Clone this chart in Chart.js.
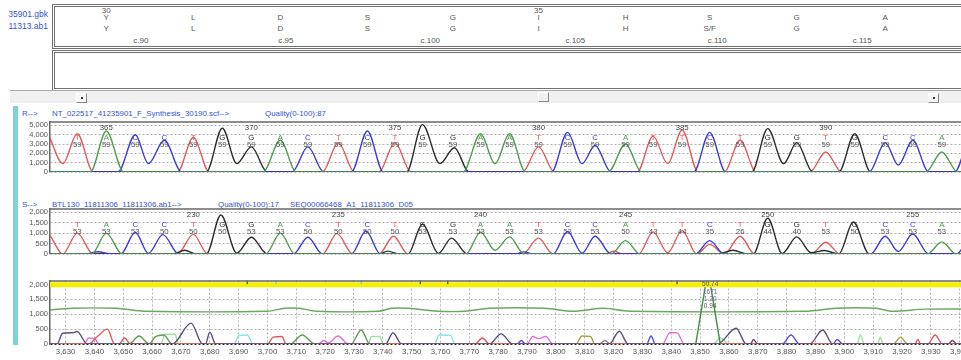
<!DOCTYPE html>
<html>
<head>
<meta charset="utf-8">
<script src="https://cdn.jsdelivr.net/npm/chart.js@4.4.1/dist/chart.umd.min.js"></script>
<style>
  html, body { margin: 0; padding: 0; background: #fff; }
  body { position: relative; width: 961px; height: 360px; overflow: hidden; font-family: "Liberation Sans", Arial, sans-serif; }
  .abs { position: absolute; white-space: nowrap; line-height: 9px; }
  .blue { color: #3555cf; font-size: 7.9px; }
  .box { position: absolute; left: 52px; width: 930px; border: 3px double #707070; background: #fff; }
  .gt { position: absolute; white-space: nowrap; font-size: 8px; line-height: 9px; color: #555; }
  canvas { position: absolute; left: 0; }
  .btn { position: absolute; width: 9px; height: 8px; background: #f6f6f6; border: 1px solid #fff; border-right-color: #888; border-bottom-color: #888; }
  .btn i { position: absolute; left: 4px; top: 3px; width: 2px; height: 2px; background: #333; }
</style>
</head>
<body>
<!-- top alignment panels -->
<div class="abs" style="right:913px;top:10px;font-size:8.5px;color:#3555cf">35901.gbk</div>
<div class="abs" style="right:913px;top:22px;font-size:8.5px;color:#3555cf">11313.ab1</div>
<div class="box" style="top:4px;height:39px"></div>
<div class="box" style="top:50px;height:35px"></div>
<div class="abs" style="left:10px;top:90px;width:951px;height:1px;background:#aaa"></div>
<div class="abs" style="left:10px;top:91px;width:951px;height:12px;background:#f0f0f0"></div>
<div class="btn" style="left:76px;top:93px"><i></i></div>
<div class="btn" style="left:538px;top:92px;background:#f0f0f0"></div>
<div class="btn" style="left:928px;top:93px"><i></i></div>
<div class="abs" style="left:13px;top:106px;width:5px;height:239px;background:#7fd3d6"></div>

<!-- trace headers -->
<div class="abs blue" style="left:22px;top:109px">R--&gt;</div>
<div class="abs blue" style="left:52px;top:109px">NT_022517_41235901_F_Synthesis_30190.scf--&gt;</div>
<div class="abs blue" style="left:265px;top:109px">Quality(0-100):87</div>
<div class="abs blue" style="left:22px;top:200px">S--&gt;</div>
<div class="abs blue" style="left:52px;top:200px">BTL130_11811306_11811306.ab1--&gt;</div>
<div class="abs blue" style="left:218px;top:200px">Quality(0-100):17</div>
<div class="abs blue" style="left:290px;top:200px">SEQ00066468_A1_11811306_D05</div>

<canvas id="rChart" width="994" height="77" style="top:115px"></canvas>
<canvas id="sChart" width="994" height="72" style="top:202px"></canvas>
<canvas id="mChart" width="994" height="84" style="top:274px"></canvas>

<script>
// ---- scan axis ----
const xTicks = [3630, 3640, 3650, 3660, 3670, 3680, 3690, 3700, 3710, 3720, 3730, 3740, 3750, 3760, 3770, 3780,
                3790, 3800, 3810, 3820, 3830, 3840, 3850, 3860, 3870, 3880, 3890, 3900, 3910, 3920, 3930, 3940];
const rTicks = [0, 1000, 2000, 3000, 4000, 5000];
const sTicks = [0, 500, 1000, 1500, 2000];
const mTicks = [0, 500, 1000, 1500, 2000];

// ---- protein / cDNA rows (top box) ----
const aaRef = ['Y', 'L', 'D', 'S', 'G', 'I', 'H', 'S', 'G', 'A'];
const aaSample = ['Y', 'L', 'D', 'S', 'G', 'I', 'H', 'S/F', 'G', 'A'];
const aaFirst = 30;
const cdnaFirst = 88;

// ---- called bases ----
const bases = 'TACCTGGACTCTGGAATCCATTCTGGTGCCA';
const baseScans = [3634, 3644, 3654, 3664, 3674, 3684, 3694, 3704, 3713.5, 3724, 3734, 3743.5, 3753, 3763.5, 3773, 3783,
                   3793, 3803, 3812.5, 3823, 3832.5, 3842.5, 3852, 3862.5, 3872, 3882, 3892, 3902, 3912.5, 3922, 3932];
const rQual = [59, 59, 59, 59, 59, 59, 59, 59, 59, 59, 59, 59, 59, 59, 59, 59, 59, 59, 59, 59, 59, 59, 59, 59, 59, 59, 59, 59, 59, 59, 59];
const sQual = [53, 53, 53, 50, 50, 50, 53, 53, 50, 50, 50, 50, 53, 53, 53, 53, 53, 53, 53, 50, 43, 44, 35, 26, 44, 40, 53, 50, 53, 53, 53];
const rFirstPos = 364;
const sFirstPos = 226;

// ---- reference trace (R) ----
const rA = [[3620, 0], [3638.5, 0], [3644, 4400], [3650, 0], [3698, 0], [3704, 3400], [3709.5, 0], [3767, 0], [3773, 4100], [3778, 900],
            [3783, 4100], [3788.5, 0], [3817, 0], [3823, 3000], [3828.5, 0], [3926.5, 0], [3932, 2150], [3937.5, 0], [3955, 0]];
const rC = [[3620, 0], [3648, 0], [3654, 4000], [3658.5, 900], [3664, 3400], [3670, 0], [3708, 0], [3713.5, 2700], [3719, 0], [3728.5, 0],
            [3734, 4400], [3739.5, 0], [3797.5, 0], [3803, 4250], [3808, 900], [3812.5, 2850], [3818, 0], [3846.5, 0], [3852, 4250], [3857.5, 0],
            [3907, 0], [3912.5, 3150], [3917, 750], [3922, 3400], [3927.5, 0], [3936.5, 0], [3942, 3800], [3948, 0]];
const rG = [[3620, 0], [3678.5, 0], [3684, 4700], [3689, 900], [3694, 2700], [3699.5, 0], [3747.5, 0], [3753, 5080], [3759, 900], [3764, 2600],
            [3769, 0], [3866.5, 0], [3872, 4650], [3877.5, 900], [3882, 3150], [3887.5, 0], [3896.5, 0], [3902, 4100], [3907.5, 0], [3955, 0]];
const rT = [[3617, 0], [3623, 4200], [3629, 900], [3634, 4100], [3639.5, 0], [3668.5, 0], [3674, 3700], [3679.5, 0], [3718.5, 0], [3724, 3150],
            [3729.5, 0], [3738, 0], [3743.5, 3150], [3749, 0], [3787.5, 0], [3793, 2700], [3798.5, 0], [3827, 0], [3832.5, 3850], [3837.5, 900],
            [3842.5, 4500], [3848, 0], [3857, 0], [3862.5, 3400], [3868, 0], [3886.5, 0], [3892, 2150], [3897.5, 0], [3955, 0]];

// ---- sample trace (S) ----
const sA = [[3620, 0], [3639, 0], [3644, 1000], [3649.5, 0], [3699, 0], [3704, 1000], [3709, 0], [3768, 0], [3773, 1050], [3778, 180],
            [3783, 820], [3788, 0], [3818, 0], [3823, 640], [3828, 0], [3927, 0], [3932, 580], [3937, 0], [3955, 0]];
const sC = [[3620, 0], [3637, 0], [3641, 110], [3646, 0], [3649, 0], [3654, 1040], [3658.5, 30], [3663.5, 930], [3669, 0], [3708.5, 0],
            [3713.5, 800], [3718.5, 0], [3728.5, 0], [3733.5, 1100], [3738.5, 0], [3785, 0], [3788, 100], [3791, 0], [3798, 0], [3803, 1080],
            [3808, 40], [3812.5, 850], [3818, 0], [3847, 0], [3852, 640], [3857, 0], [3907.5, 0], [3912.5, 850], [3917, 120], [3922, 960],
            [3927.5, 0], [3937, 0], [3943, 1000], [3949, 0]];
const sG = [[3620, 0], [3667, 0], [3671, 180], [3675, 0], [3678.5, 0], [3683.5, 1870], [3689, 40], [3694, 800], [3699.5, 0], [3738, 0],
            [3741, 140], [3745, 0], [3748, 0], [3753, 1440], [3758.5, 30], [3763, 760], [3768.5, 0], [3855, 0], [3860, 180], [3865, 0],
            [3867, 0], [3872, 1710], [3877, 30], [3882, 820], [3887, 60], [3891.5, 170], [3896.5, 0], [3901.5, 1530], [3907, 0], [3955, 0]];
const sT = [[3618, 0], [3623.5, 1000], [3629, 0], [3634, 1000], [3639.5, 0], [3668.5, 0], [3674, 940], [3679, 0], [3718.5, 0], [3723.5, 975],
            [3729, 0], [3738, 0], [3743, 850], [3748, 0], [3787.5, 0], [3793, 760], [3798, 0], [3816, 0], [3819, 130], [3822, 0],
            [3827.5, 0], [3832.5, 1060], [3837.5, 60], [3842.5, 1120], [3847.5, 0], [3852, 460], [3857, 0], [3862.5, 850], [3867.5, 0],
            [3887, 0], [3892, 560], [3897, 0], [3955, 0]];

// ---- mutation panel ----
const band = [[3620, 1990], [3955, 1990]];
const bandMarks = [[3693, 2110], [3703, 2110], [3732.5, 2110], [3753, 2110], [3762.5, 2110], [3842, 2110]];
const bandMarkColors = ['#3d7a3d', '#70d8d8', '#70d8d8', '#3d7a3d', '#3d7a3d', '#666'];
const mLine = [[3620, 1100], [3632.5, 1200], [3647.5, 1200], [3658, 1100], [3700, 1100], [3706, 1200], [3711, 1200], [3717, 1100],
               [3738.5, 1100], [3743, 1200], [3749, 1200], [3759, 1100], [3768.5, 1100], [3777, 1200], [3796, 1200], [3806, 1100],
               [3816.5, 1200], [3825.5, 1100], [3886.5, 1100], [3897, 1200], [3911, 1200], [3916.5, 1100], [3928, 1170], [3955, 1170]];
const spike = [[3848.5, 0], [3852, 2050], [3853.5, 2050], [3857, 0]];
const spikeNotes = ['50.74', '1671', '1.20', '0.94'];
const spikeScan = 3853.5;
const nDark = [[3620, 0], [3627, 0], [3629, 360], [3632.5, 380], [3634, 420], [3637.5, 0], [3667, 0], [3673.5, 700], [3677.5, 0], [3678.5, 0],
               [3680, 400], [3682, 0], [3741, 0], [3743.5, 380], [3746.5, 0], [3777, 0], [3781, 340], [3785, 0], [3818.5, 0], [3822, 430],
               [3825, 0], [3856, 0], [3862.5, 530], [3866, 0], [3867.5, 0], [3868.5, 150], [3870, 0], [3888, 0], [3892.5, 470], [3896, 0],
               [3936, 0], [3937.5, 120], [3939, 0], [3955, 0]];
const nRed = [[3620, 0], [3638, 0], [3641, 250], [3644.5, 500], [3647, 0], [3648.5, 0], [3650.5, 200], [3652.5, 0], [3700, 0], [3702, 230],
              [3705, 250], [3706.5, 0], [3772, 0], [3774.5, 200], [3777, 0], [3924.5, 0], [3925.5, 150], [3926.5, 0], [3929, 0], [3931.5, 300],
              [3934, 0], [3955, 0]];
const nGreen = [[3620, 0], [3652, 0], [3655.5, 270], [3659, 0], [3661, 230], [3664, 300], [3667, 0], [3708, 0], [3712, 300], [3716.5, 0],
                [3729, 0], [3732.5, 470], [3735.5, 0], [3955, 0]];
const nOlive = [[3620, 0], [3807, 0], [3809, 270], [3812, 250], [3813.5, 0], [3917, 0], [3919.5, 230], [3922, 0], [3955, 0]];
const nLight = [[3620, 0], [3663, 0], [3664.5, 330], [3668, 330], [3669, 0], [3735, 0], [3736, 250], [3739, 250], [3740, 0], [3854.5, 0],
                [3857, 200], [3860, 0], [3904.5, 0], [3905.5, 300], [3907, 0], [3911.5, 0], [3912.5, 230], [3913.5, 0], [3955, 0]];
const nCyan = [[3620, 0], [3688.5, 0], [3690, 280], [3693, 300], [3695, 0], [3758, 0], [3759.5, 300], [3763.5, 290], [3765, 0], [3955, 0]];
const nMagenta = [[3620, 0], [3636.5, 0], [3638, 200], [3640, 190], [3641.5, 0], [3717.5, 0], [3719.5, 120], [3721, 40], [3724.5, 270],
                  [3728, 0], [3790, 0], [3792, 250], [3794, 180], [3796.5, 250], [3799, 0], [3837, 0], [3839.5, 380], [3842, 380],
                  [3844.5, 0], [3955, 0]];
const nBlue = [[3620, 0], [3786.5, 0], [3788, 120], [3789.5, 0], [3831.5, 0], [3833, 270], [3834.5, 0], [3878.5, 0], [3881.5, 300],
               [3884.5, 0], [3896, 0], [3897.5, 150], [3899.5, 0], [3955, 0]];
const nGrey = [[3620, 0], [3815, 0], [3817, 120], [3819, 0], [3955, 0]];

// ---- drawing ----
const FONT = '"Liberation Sans", Arial, sans-serif';
const X_MIN = 3624.6, X_MAX = 3950;
const baseColor = { A: '#4f9c4f', C: '#3a3ad6', G: '#2b2b2b', T: '#e45a5a' };
const fmt = v => Number(v).toLocaleString('en-US');

function trace(data, color, extra) {
    return Object.assign({ data, borderColor: color, borderWidth: 1.4, pointRadius: 0, fill: false,
                           cubicInterpolationMode: 'monotone' }, extra || {});
}

// solid top edge of every plot
const frame = {
    id: 'frame',
    afterDraw(chart) {
        const { ctx, chartArea: a } = chart;
        ctx.save();
        ctx.strokeStyle = '#666';
        ctx.lineWidth = 1.5;
        ctx.beginPath();
        ctx.moveTo(a.left, a.top + 0.5);
        ctx.lineTo(a.right, a.top + 0.5);
        ctx.stroke();
        ctx.restore();
    }
};

function baseLabels(quals, firstPos) {
    return {
        id: 'baseLabels',
        afterDatasetsDraw(chart) {
            const { ctx, chartArea: a, scales: { x } } = chart;
            ctx.save();
            ctx.textAlign = 'center';
            ctx.textBaseline = 'middle';
            ctx.font = '7.8px ' + FONT;
            bases.split('').forEach((b, i) => {
                const px = x.getPixelForValue(baseScans[i]);
                if ((firstPos + i) % 5 === 0) {
                    ctx.fillStyle = '#444';
                    ctx.fillText(firstPos + i, px, a.top + 6);
                }
                ctx.fillStyle = baseColor[b];
                ctx.fillText(b, px, a.top + 16);
                ctx.fillStyle = '#555';
                ctx.fillText(quals[i], px, a.top + 23);
            });
            ctx.restore();
        }
    };
}

const spikeText = {
    id: 'spikeText',
    afterDatasetsDraw(chart) {
        const { ctx, chartArea: a, scales: { x } } = chart;
        const px = x.getPixelForValue(spikeScan);
        const colors = ['#555', '#7a5aa8', '#7a5aa8', '#555'];
        ctx.save();
        ctx.textAlign = 'center';
        ctx.textBaseline = 'middle';
        ctx.font = '6.5px ' + FONT;
        spikeNotes.forEach((t, i) => {
            ctx.fillStyle = colors[i];
            ctx.fillText(t, px, a.top + 4 + i * 7.3);
        });
        ctx.restore();
    }
};

function panel(id, yMax, yTicks, datasets, plugins, showX, zeroWidth) {
    return new Chart(document.getElementById(id), {
        type: 'line',
        data: { datasets },
        options: {
            responsive: false,
            animation: false,
            devicePixelRatio: 1,
            events: [],
            layout: { padding: { top: 6, bottom: showX ? 0 : 6, left: 0, right: 0 } },
            plugins: { legend: { display: false }, tooltip: { enabled: false } },
            scales: {
                x: {
                    type: 'linear', min: X_MIN, max: X_MAX, display: showX,
                    afterBuildTicks: ax => { ax.ticks = xTicks.map(v => ({ value: v })); },
                    afterFit: ax => { ax.height = 14; },
                    ticks: { callback: v => fmt(v), color: '#555', font: { size: 7.8, family: FONT }, padding: 3,
                             maxRotation: 0, autoSkip: false },
                    grid: { display: showX, color: '#b4b4b4', drawTicks: false },
                    border: { display: false, dash: [2, 2] }
                },
                y: {
                    min: 0, max: yMax,
                    afterBuildTicks: ax => { ax.ticks = yTicks.map(v => ({ value: v })); },
                    afterFit: ax => { ax.width = 50; },
                    ticks: { callback: v => fmt(v), color: '#555', font: { size: 7.5, family: FONT }, padding: 2,
                             autoSkip: false },
                    grid: {
                        drawTicks: false,
                        color: c => (c.tick && c.tick.value === 0) ? '#222' : '#b0b0b0',
                        lineWidth: c => (c.tick && c.tick.value === 0) ? zeroWidth : 1
                    },
                    border: { display: true, color: '#666', width: 1.5, dash: [2, 2] }
                }
            }
        },
        plugins: [frame].concat(plugins)
    });
}

const rChart = panel('rChart', 5417, rTicks, [
    trace(rA, baseColor.A), trace(rC, baseColor.C), trace(rG, baseColor.G), trace(rT, baseColor.T)
], [baseLabels(rQual, rFirstPos)], false, 1.3);

const sChart = panel('sChart', 2180, sTicks, [
    trace(sA, baseColor.A), trace(sC, baseColor.C), trace(sG, baseColor.G), trace(sT, baseColor.T)
], [baseLabels(sQual, sFirstPos)], false, 1.3);

const mChart = panel('mChart', 2133, mTicks, [
    { data: bandMarks, showLine: false, pointStyle: 'line', pointRotation: 90, pointRadius: 3,
      pointBorderWidth: 1.5, pointBorderColor: bandMarkColors },
    trace(band, '#f4ef00', { borderWidth: 5, cubicInterpolationMode: 'default', tension: 0 }),
    trace(spike, '#3e8e3e', { cubicInterpolationMode: 'default', tension: 0 }),
    trace(mLine, '#6aa860', { cubicInterpolationMode: 'default', tension: 0.3 }),
    trace(nDark, '#5d4c7c'), trace(nRed, '#e05858'), trace(nGreen, '#5f9e4f'), trace(nOlive, '#a8a040'),
    trace(nLight, '#9fe39f'), trace(nCyan, '#86e4e4'), trace(nMagenta, '#e070e0'), trace(nBlue, '#5555d5'),
    trace(nGrey, '#8a8a8a')
], [spikeText], true, 2);

// ---- top box text, placed on the reference trace's scan axis ----
function addText(text, x, yCenter, centered) {
    const el = document.createElement('div');
    el.className = 'gt';
    el.textContent = text;
    el.style.left = x + 'px';
    el.style.top = (yCenter - 4.5) + 'px';
    if (centered) el.style.transform = 'translateX(-50%)';
    document.body.appendChild(el);
}
const bx = i => rChart.scales.x.getPixelForValue(baseScans[i]);
aaRef.forEach((aa, k) => {
    const i = 1 + 3 * k;
    if ((aaFirst + k) % 5 === 0) addText(aaFirst + k, bx(i), 10, true);
    addText(aa, bx(i), 17, true);
    addText(aaSample[k], bx(i), 28, true);
});
baseScans.forEach((s, i) => {
    if ((cdnaFirst + i) % 5 === 0) addText('c.' + (cdnaFirst + i), bx(i) - 2, 40, false);
});
</script>
</body>
</html>
